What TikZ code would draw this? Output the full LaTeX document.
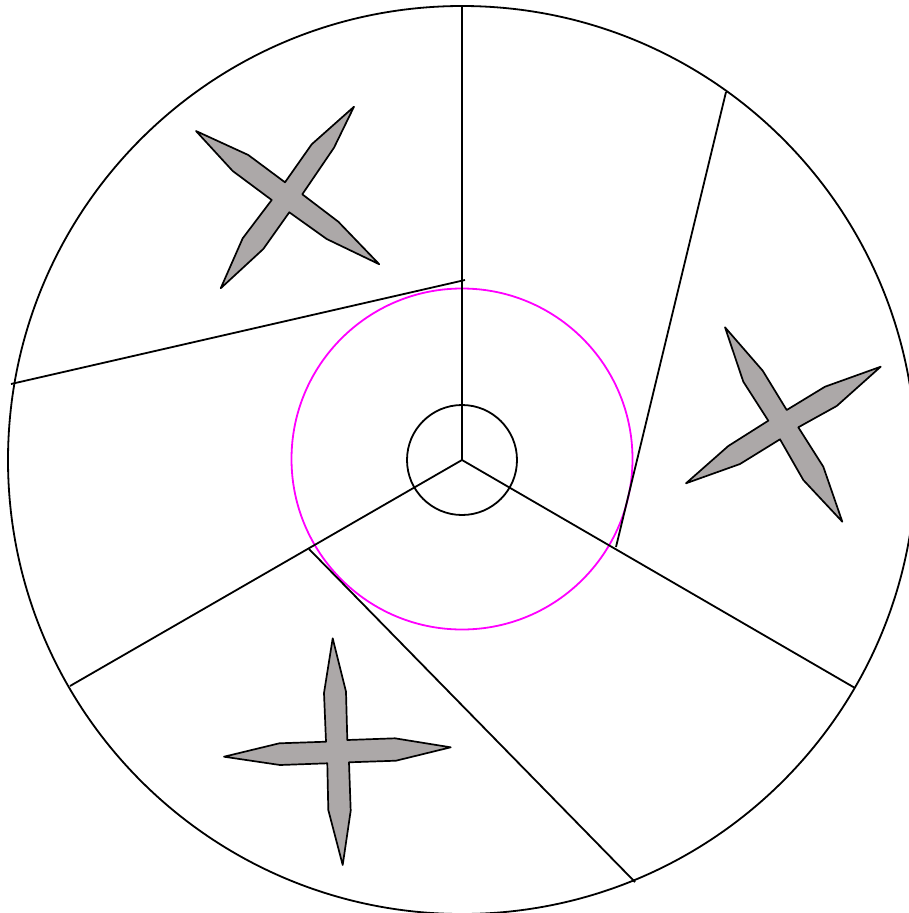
\documentclass[tikz,border=0pt]{standalone}
\definecolor{stargray}{RGB}{172,168,168}
\definecolor{ringmag}{RGB}{255,0,255}
\tikzset{
  edge/.style={draw=black, line width=1.8pt},
  starshape/.style={draw=black, fill=stargray, line width=1.7pt, line join=round},
  ring/.style={draw=ringmag, line width=1.8pt}
}
\begin{document}
\begin{tikzpicture}[x=1pt,y=-1pt]
\useasboundingbox (0,0) rectangle (908,913);
\coordinate (c) at (462,460);
% outer circle
\draw[edge] (c) circle (454);
% magenta ring
\draw[ring] (462,459) circle (170.5);
% inner circle
\draw[edge] (c) circle (55);
% spokes
\coordinate (top) at (462,6);
\coordinate (lr) at (855,688);
\coordinate (ll) at (70,686);
\draw[edge] (c) -- (top);
\draw[edge] (c) -- (lr);
\draw[edge] (c) -- (ll);
% extra chords
\coordinate (a1) at (11,384); \coordinate (a2) at (465,280);
\coordinate (b1) at (726,92);  \coordinate (b2) at (616,547);
\coordinate (d1) at (309,549); \coordinate (d2) at (635,882);
\draw[edge] (a1) -- (a2);
\draw[edge] (b1) -- (b2);
\draw[edge] (d1) -- (d2);
% star upper-left
\draw[starshape] (354,106.7) -- (334,147.7) -- (302.3,194.3) -- (338.3,221.7) -- (379.3,264.3)
  -- (326.7,239) -- (289.3,212.3) -- (263.3,249) -- (220.7,288.3) -- (242.7,238.3)
  -- (271.7,200) -- (232.7,171) -- (196,131) -- (248.3,155) -- (285,182.3) -- (311.7,144.3) -- cycle;
% star right
\draw[starshape] (725,327.3) -- (762.7,370.7) -- (786.7,410) -- (825,386.7) -- (880.7,366.7)
  -- (836.7,406) -- (798.3,427.3) -- (823.3,466.7) -- (842.3,521.7) -- (803.3,480)
  -- (780,439.3) -- (740,464) -- (686,483.3) -- (728.3,446) -- (768.3,420.7) -- (743.3,381.7) -- cycle;
% star bottom
\draw[starshape] (332.7,638.3) -- (346,691.7) -- (347.3,740) -- (395,738.3) -- (450.7,747.3)
  -- (396,760.7) -- (349,762.3) -- (350.7,810.7) -- (342.7,865) -- (328.3,810)
  -- (327.3,763.3) -- (280,765) -- (224,756.7) -- (279.3,743.3) -- (326,741.7) -- (324,693) -- cycle;
\end{tikzpicture}
\end{document}
